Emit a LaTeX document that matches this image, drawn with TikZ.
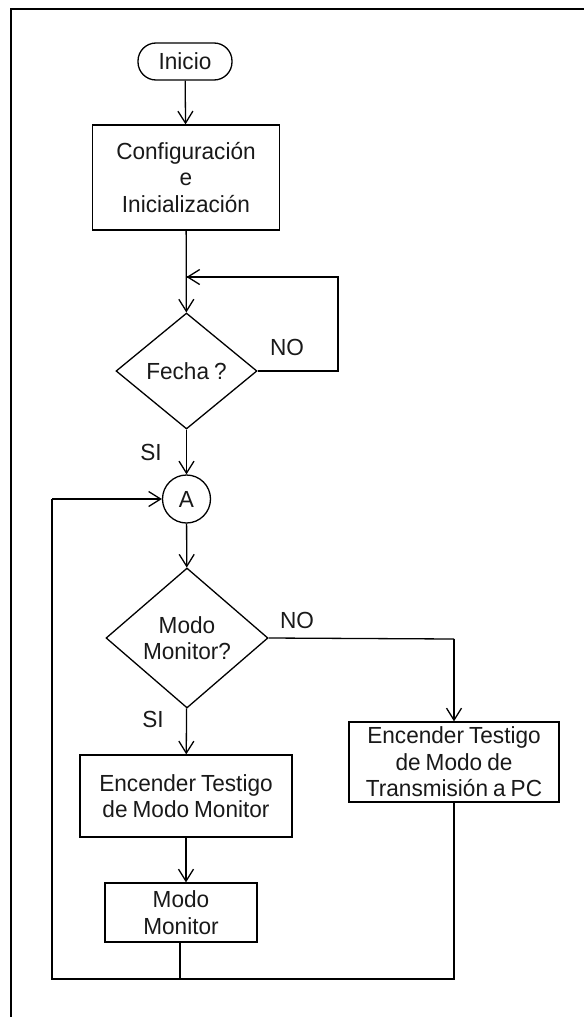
\documentclass[tikz,border=0pt]{standalone}
\usepackage{fontspec}
\setmainfont[FakeStretch=0.97,WordSpace=0.8]{Liberation Sans}
\usetikzlibrary{shapes.geometric,arrows.meta}
\begin{document}
\begin{tikzpicture}[x=1pt,y=-1pt,
  every node/.style={font=\fontsize{23.3}{26.5}\selectfont, inner sep=0pt, text=black!90},
  shp/.style={draw, line width=1.3pt, align=center},
  procbox/.style={shp, rectangle},
  decis/.style={shp, diamond},
  term/.style={shp, rectangle, rounded corners=18pt},
  conn/.style={circle, shp},
  wire/.style={line width=1.3pt},
  arr/.style={wire, -{Straight Barb[length=12pt,width=15pt]}},
  lbl/.style={}]
\useasboundingbox (0,0) rectangle (584,1017);
% frame
\draw[line width=1.5pt] (11,1017) -- (11,9) -- (584,9);

% nodes
\node[term, minimum width=94pt, minimum height=37pt] (inicio) at (185,61.5) {Inicio};
\node[procbox, minimum width=187pt, minimum height=105pt] (config) at (186,177.5) {Configuración\\e\\Inicialización};
\node[decis, minimum width=141pt, minimum height=116pt] (fecha) at (186.5,371) {Fecha ?};
\node[conn, minimum size=48pt] (A) at (186.5,499) {A};
\node[decis, minimum width=162pt, minimum height=140pt] (modo) at (187,638) {Modo\\Monitor?};
\node[procbox, minimum width=212pt, minimum height=82pt] (encM) at (186,796) {Encender Testigo\\de Modo Monitor};
\node[procbox, minimum width=152pt, minimum height=59pt] (mm) at (181,912.5) {Modo\\Monitor};
\node[procbox, minimum width=210pt, minimum height=80pt] (encT) at (454,762) {Encender Testigo\\de Modo de\\Transmisión a PC};

% labels
\node[lbl] (no1) at (287,347) {NO};
\node[lbl] (si1) at (151,452) {SI};
\node[lbl] (no2) at (297,620) {NO};
\node[lbl] (si2) at (153,719) {SI};

% corner coordinates
\coordinate (fr1) at (338,371);
\coordinate (fr2) at (338,277);
\coordinate (fin) at (186.5,277);
\coordinate (nr) at (454,639);
\coordinate (mb) at (180,979);
\coordinate (lb) at (52,979);
\coordinate (lt) at (52,499);
\coordinate (rb) at (454,979);

% connectors
\draw[arr] (inicio) -- (config);
\draw[arr] (config) -- (fecha);
\draw[wire] (fecha.east) -- (fr1) -- (fr2) -- (fin);
\draw[arr] (fr2) -- (fin);
\draw[arr] (fecha) -- (A);
\draw[arr] (A) -- (modo);
\draw[wire] (modo.east) -- (nr);
\draw[arr] (nr) -- (encT.north);
\draw[arr] (modo) -- (encM);
\draw[arr] (encM.south) -- (encM.south |- mm.north);
\draw[wire] (mm.south -| mb) -- (mb) -- (lb) -- (lt);
\draw[arr] (lt) -- (A.west);
\draw[wire] (encT.south) -- (rb) -- (mb);
\end{tikzpicture}
\end{document}
